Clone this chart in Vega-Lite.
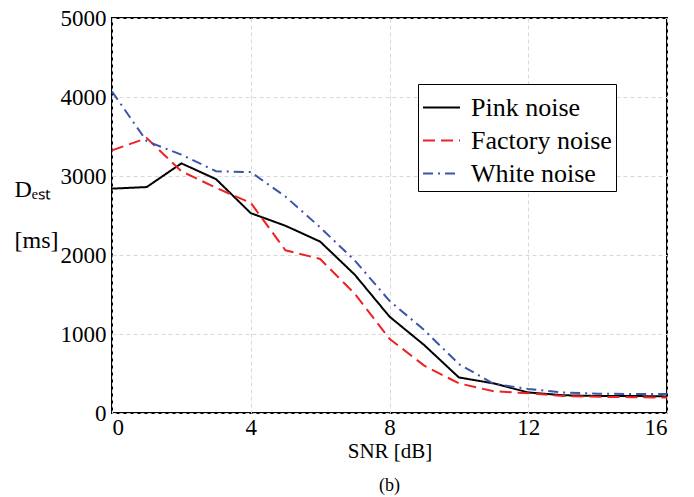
{
  "$schema": "https://vega.github.io/schema/vega-lite/v6.json",
  "width": 555,
  "height": 395,
  "autosize": "none",
  "padding": {"left": 112, "top": 18, "right": 27, "bottom": 84},
  "background": "white",
  "title": {"text": "(b)", "orient": "bottom", "font": "Liberation Serif", "fontSize": 18, "fontWeight": "normal", "color": "black", "offset": 16},
  "config": {
    "font": "Liberation Serif",
    "view": {"stroke": "black", "strokeWidth": 2},
    "axis": {
      "labelFont": "Liberation Serif", "labelFontSize": 23, "labelColor": "black",
      "titleFont": "Liberation Serif", "titleFontSize": 21, "titleFontWeight": "normal", "titleColor": "black",
      "grid": true, "gridColor": "#d8d8d8", "gridDash": [4, 3], "gridWidth": 1,
      "domain": false, "ticks": false
    }
  },
  "data": {
    "values": [
      {"snr": 0, "d": 2840, "noise": "Pink noise"},
      {"snr": 1, "d": 2860, "noise": "Pink noise"},
      {"snr": 2, "d": 3160, "noise": "Pink noise"},
      {"snr": 3, "d": 2960, "noise": "Pink noise"},
      {"snr": 4, "d": 2530, "noise": "Pink noise"},
      {"snr": 5, "d": 2370, "noise": "Pink noise"},
      {"snr": 6, "d": 2170, "noise": "Pink noise"},
      {"snr": 7, "d": 1750, "noise": "Pink noise"},
      {"snr": 8, "d": 1220, "noise": "Pink noise"},
      {"snr": 9, "d": 860, "noise": "Pink noise"},
      {"snr": 10, "d": 450, "noise": "Pink noise"},
      {"snr": 11, "d": 375, "noise": "Pink noise"},
      {"snr": 12, "d": 260, "noise": "Pink noise"},
      {"snr": 13, "d": 225, "noise": "Pink noise"},
      {"snr": 14, "d": 215, "noise": "Pink noise"},
      {"snr": 15, "d": 215, "noise": "Pink noise"},
      {"snr": 16, "d": 210, "noise": "Pink noise"},
      {"snr": 0, "d": 3325, "noise": "Factory noise"},
      {"snr": 1, "d": 3480, "noise": "Factory noise"},
      {"snr": 2, "d": 3060, "noise": "Factory noise"},
      {"snr": 3, "d": 2850, "noise": "Factory noise"},
      {"snr": 4, "d": 2660, "noise": "Factory noise"},
      {"snr": 5, "d": 2060, "noise": "Factory noise"},
      {"snr": 6, "d": 1950, "noise": "Factory noise"},
      {"snr": 7, "d": 1510, "noise": "Factory noise"},
      {"snr": 8, "d": 940, "noise": "Factory noise"},
      {"snr": 9, "d": 600, "noise": "Factory noise"},
      {"snr": 10, "d": 375, "noise": "Factory noise"},
      {"snr": 11, "d": 275, "noise": "Factory noise"},
      {"snr": 12, "d": 250, "noise": "Factory noise"},
      {"snr": 13, "d": 215, "noise": "Factory noise"},
      {"snr": 14, "d": 205, "noise": "Factory noise"},
      {"snr": 15, "d": 200, "noise": "Factory noise"},
      {"snr": 16, "d": 195, "noise": "Factory noise"},
      {"snr": 0, "d": 4070, "noise": "White noise"},
      {"snr": 1, "d": 3440, "noise": "White noise"},
      {"snr": 2, "d": 3270, "noise": "White noise"},
      {"snr": 3, "d": 3060, "noise": "White noise"},
      {"snr": 4, "d": 3050, "noise": "White noise"},
      {"snr": 5, "d": 2740, "noise": "White noise"},
      {"snr": 6, "d": 2350, "noise": "White noise"},
      {"snr": 7, "d": 1930, "noise": "White noise"},
      {"snr": 8, "d": 1420, "noise": "White noise"},
      {"snr": 9, "d": 1050, "noise": "White noise"},
      {"snr": 10, "d": 620, "noise": "White noise"},
      {"snr": 11, "d": 370, "noise": "White noise"},
      {"snr": 12, "d": 305, "noise": "White noise"},
      {"snr": 13, "d": 260, "noise": "White noise"},
      {"snr": 14, "d": 245, "noise": "White noise"},
      {"snr": 15, "d": 240, "noise": "White noise"},
      {"snr": 16, "d": 240, "noise": "White noise"}
    ]
  },
  "mark": {"type": "line", "strokeWidth": 2},
  "encoding": {
    "x": {
      "field": "snr", "type": "quantitative",
      "scale": {"domain": [0, 16], "nice": false},
      "axis": {"values": [0, 4, 8, 12, 16], "format": "d", "title": "SNR [dB]", "labelPadding": 3, "titlePadding": 1}
    },
    "y": {
      "field": "d", "type": "quantitative",
      "scale": {"domain": [0, 5000], "nice": false},
      "axis": {"values": [0, 1000, 2000, 3000, 4000, 5000], "format": "d", "labelPadding": 6,
               "title": ["Dₑₛₜ", "[ms]"], "titleAngle": 0, "titleAlign": "left", "titleBaseline": "middle",
               "titleX": -98, "titleY": 171, "titleFontSize": 24, "titleLineHeight": 51}
    },
    "color": {
      "field": "noise", "type": "nominal",
      "scale": {"domain": ["Pink noise", "Factory noise", "White noise"], "range": ["#000000", "#ee2222", "#3a55aa"]},
      "legend": {
        "title": null, "orient": "none", "legendX": 306, "legendY": 66,
        "fillColor": "white", "strokeColor": "black", "padding": 4,
        "labelFont": "Liberation Serif", "labelFontSize": 26, "labelColor": "black",
        "symbolType": "stroke", "symbolSize": 1369, "symbolStrokeWidth": 2, "rowPadding": -1, "labelOffset": 10
      }
    },
    "strokeDash": {
      "field": "noise", "type": "nominal",
      "scale": {"domain": ["Pink noise", "Factory noise", "White noise"], "range": [[1, 0], [12, 6], [10, 5, 2, 5]]},
      "legend": null
    }
  }
}
